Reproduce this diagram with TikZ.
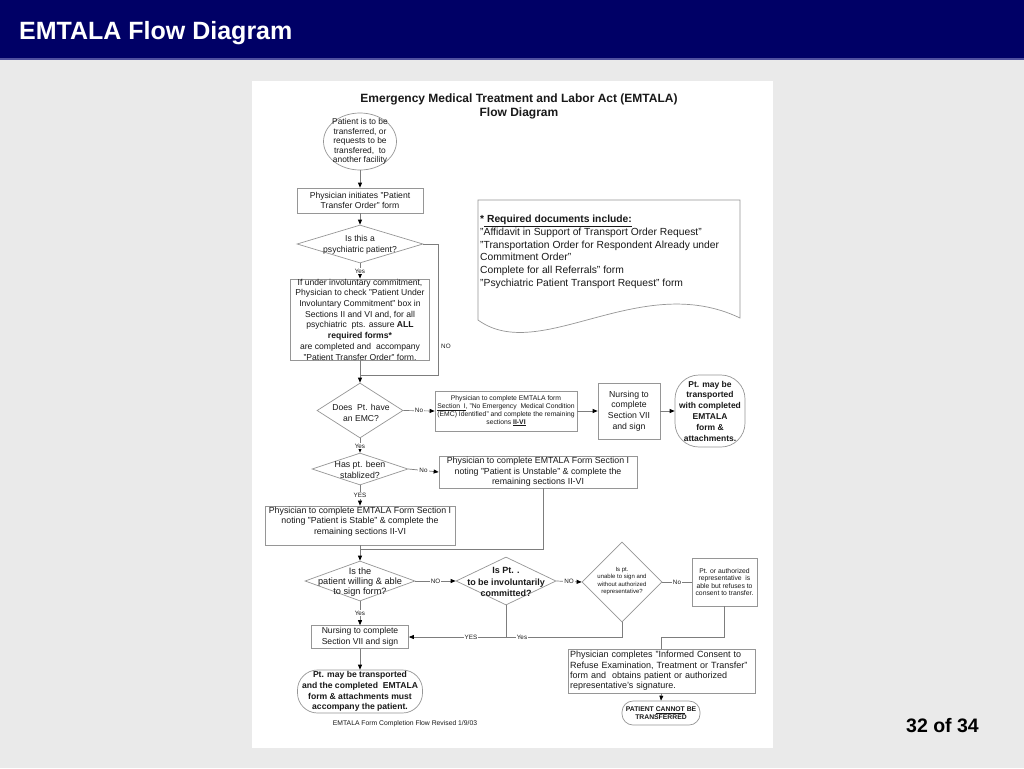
\documentclass[tikz,border=0pt]{standalone}
\usepackage{fontspec}
\setmainfont{Liberation Sans}
\usetikzlibrary{shapes.geometric,arrows.meta}
\newcommand{\fsz}[2]{\fontsize{#1pt}{#2pt}\selectfont}
\definecolor{navy}{RGB}{0,0,102}
\definecolor{hdrline}{RGB}{80,80,160}
\definecolor{bgray}{RGB}{234,234,234}
\definecolor{lgray}{RGB}{150,150,150}
\definecolor{cgray}{RGB}{125,125,125}
\definecolor{ink}{RGB}{25,25,25}
\tikzset{
 shp/.style={draw=lgray, line width=0.7pt, fill=white, inner sep=0pt, align=center, text=ink},
 box/.style={shp, rectangle},
 dia/.style={shp, diamond},
 txt/.style={inner sep=0pt, align=center, text=ink},
 conn/.style={draw=cgray, line width=0.7pt},
 arr/.style={conn, -{Triangle[length=5pt,width=4pt,color=black]}},
 lab/.style={fill=white, inner sep=1pt, text=ink, font=\fsz{6.3}{7}},
}
\begin{document}
\begin{tikzpicture}[x=1pt,y=-1pt]
\useasboundingbox (0,0) rectangle (1024,768);
\fill[bgray] (0,0) rectangle (1024,768);
\fill[navy] (0,0) rectangle (1024,58.5);
\draw[hdrline, line width=1.2pt] (0,59) -- (1024,59);
\node[anchor=base west, inner sep=0pt, text=white, font=\bfseries\fsz{25}{30}] (hdr) at (19,39.5) {EMTALA Flow Diagram};
\node[anchor=base west, inner sep=0pt, text=black, font=\bfseries\fsz{19.5}{23}] (pg) at (906,732) {32 of 34};
\fill[white] (252,81) rectangle (773,748);

% title
\node[txt, font=\bfseries\fsz{12}{14}] (title) at (519,106) {Emergency Medical Treatment and Labor Act (EMTALA)\\Flow Diagram};

% main column
\node[shp, ellipse, minimum width=73pt, minimum height=57pt] (start) at (360,141.5) {};
\node[txt, font=\fsz{8.4}{9.6}] at (start) {Patient is to be\\transferred, or\\requests to be\\transfered,\ \ to\\another facility};

\node[box, minimum width=126pt, minimum height=25pt, font=\fsz{8.6}{10.8}] (b1) at (360,200.5) {Physician initiates "Patient\\Transfer Order" form};

\node[dia, minimum width=126pt, minimum height=38pt] (d1) at (360,244) {};
\node[txt, font=\fsz{8.6}{10.8}] at (360,245) {Is this a\\psychiatric patient?};

\node[box, minimum width=139pt, minimum height=79pt, font=\fsz{8.6}{10.7}] (b2) at (360,319.5) {If under involuntary commitment,\\Physician to check "Patient Under\\Involuntary Commitment" box in\\Sections II and VI and, for all\\psychiatric\ \ pts. assure \textbf{ALL}\\\textbf{required forms*}\\are completed and\ \ accompany\\"Patient Transfer Order" form.};

\node[dia, minimum width=86pt, minimum height=55pt] (d2) at (360,410.5) {};
\node[txt, font=\fsz{8.6}{11.5}] at (361,413) {Does\ \ Pt. have\\an EMC?};

\node[box, minimum width=142pt, minimum height=40pt, font=\fsz{6.8}{7.7}] (b3) at (506,411) {Physician to complete EMTALA form\\\underline{Section\ \ I}, "No Emergency\ \ Medical Condition\\(EMC) Identified" and complete the remaining\\sections \textbf{\underline{II-VI}}};

\node[box, minimum width=62pt, minimum height=56pt, font=\fsz{8.7}{10.8}] (b4) at (629,411) {Nursing to\\complete\\Section VII\\and sign};

\node[shp, rectangle, rounded corners=24pt, minimum width=70pt, minimum height=72pt, font=\bfseries\fsz{8.5}{10.8}] (t1) at (710,411) {Pt. may be\\transported\\with completed\\EMTALA\\form \&\\attachments.};

\node[dia, minimum width=96pt, minimum height=32pt] (d3) at (360,469) {};
\node[txt, font=\fsz{8.8}{10.5}] at (360,470) {Has pt. been\\stablized?};

\node[box, minimum width=198pt, minimum height=32pt, font=\fsz{8.8}{10.5}] (b5) at (538,472) {Physician to complete EMTALA Form Section I\\noting "Patient is Unstable" \& complete the\\remaining sections II-VI};

\node[box, minimum width=190pt, minimum height=39pt] (b6) at (360,525.5) {};
\node[txt, font=\fsz{8.8}{10.5}] at (360,521.5) {Physician to complete EMTALA Form Section I\\noting "Patient is Stable" \& complete the\\remaining sections II-VI};

\node[dia, minimum width=110pt, minimum height=40pt] (d4) at (360,581) {};
\node[txt, font=\fsz{9.2}{10}] at (360,582) {Is the\\patient willing \& able\\to sign form?};

\node[dia, minimum width=100pt, minimum height=48pt] (d5) at (506,581) {};
\node[txt, font=\bfseries\fsz{9}{11.5}] at (506,582) {Is Pt. .\\to be involuntarily\\committed?};

\node[dia, minimum width=80pt, minimum height=80pt] (d6) at (622,582) {};
\node[txt, font=\fsz{6}{7.6}] at (622,581) {Is pt.\\unable to sign and\\without authorized\\representative?};

\node[box, minimum width=65pt, minimum height=48pt, font=\fsz{6.8}{7.6}] (b7) at (724.5,582) {Pt. or authorized\\representative\ \ is\\able but refuses to\\consent to transfer.};

\node[box, minimum width=187pt, minimum height=44pt, text width=183pt, inner xsep=2pt, align=left, font=\fsz{9}{10.3}] (b8) at (661.5,671) {Physician completes "Informed Consent to\\Refuse Examination, Treatment or Transfer"\\form and\ \ obtains patient or authorized\\representative's signature.};

\node[shp, rectangle, rounded corners=11pt, minimum width=78pt, minimum height=24pt, font=\bfseries\fsz{6.8}{7.5}] (t2) at (661,713) {PATIENT \underline{CANNOT} BE\\TRANSFERRED};

\node[box, minimum width=97pt, minimum height=23pt, font=\fsz{8.6}{11}] (b9) at (360,637) {Nursing to complete\\Section VII and sign};

\node[shp, rectangle, rounded corners=20pt, minimum width=125pt, minimum height=43pt, font=\bfseries\fsz{8.6}{10.7}] (t3) at (360,691.5) {Pt. may be transported\\and the completed\ \ EMTALA\\form \& attachments must\\accompany the patient.};

\node[txt, font=\fsz{6.8}{8}] (foot) at (405,724) {EMTALA Form Completion Flow Revised 1/9/03};

% required documents
\draw[draw=lgray, line width=0.7pt, fill=white] (478,200) -- (740,200) -- (740,318) .. controls (640,270) and (540,365) .. (478,320) -- cycle;
\node[txt, align=left, anchor=north west, font=\fsz{10.3}{12.7}] (docs) at (480,215) {\textbf{*\underline{\ Required documents include:}}\\"Affidavit in Support of Transport Order Request"\\"Transportation Order for Respondent Already under\\Commitment Order"\\Complete for all Referrals" form\\"Psychiatric Patient Transport Request" form};

% connectors
\draw[arr] (start.south) -- (b1.north);
\draw[arr] (b1.south) -- (d1.north);
\draw[arr] (d1.south) -- node[lab]{Yes} (b2.north);
\coordinate (m1) at (438,375);
\coordinate (jn1) at (360,375);
\draw[conn] (d1.east) -| (m1) -- (jn1);
\node[lab, fill=none, anchor=west] (nolab) at (440,346) {NO};
\draw[conn] (b2.south) -- (jn1);
\draw[arr] (jn1) -- (d2.north);
\draw[arr] (d2.east) -- node[lab]{No} (b3.west);
\draw[arr] (b3.east) -- (b4.west);
\draw[arr] (b4.east) -- (t1.west);
\draw[arr] (d2.south) -- node[lab, pos=0.55]{Yes} (d3.north);
\draw[arr] (d3.east) -- node[lab]{No} (b5.west);
\draw[arr] (d3.south) -- node[lab]{YES} (b6.north);
\coordinate (c5) at (543,549);
\coordinate (jn2) at (360,549);
\draw[conn] (b5.south -| c5) -- (c5) -- (jn2);
\draw[conn] (b6.south) -- (jn2);
\draw[arr] (jn2) -- (d4.north);
\draw[arr] (d4.east) -- node[lab]{NO} (d5.west);
\draw[arr] (d5.east) -- node[lab]{NO} (d6.west);
\draw[conn] (d6.east) -- node[lab]{No} (b7.west);
\coordinate (c8) at (661.5,637);
\draw[conn] (b7.south) |- (c8) -- (b8.north);
\draw[arr] (b8.south) -- (t2.north);
\coordinate (c9) at (506,637);
\draw[conn] (d6.south) |- (c9);
\draw[arr] (d5.south) -- (c9) -- (b9.east);
\node[lab] (yes1) at (471,637) {YES};
\node[lab] (yes2) at (522,637) {Yes};
\draw[arr] (d4.south) -- node[lab]{Yes} (b9.north);
\draw[arr] (b9.south) -- (t3.north);
\end{tikzpicture}
\end{document}
